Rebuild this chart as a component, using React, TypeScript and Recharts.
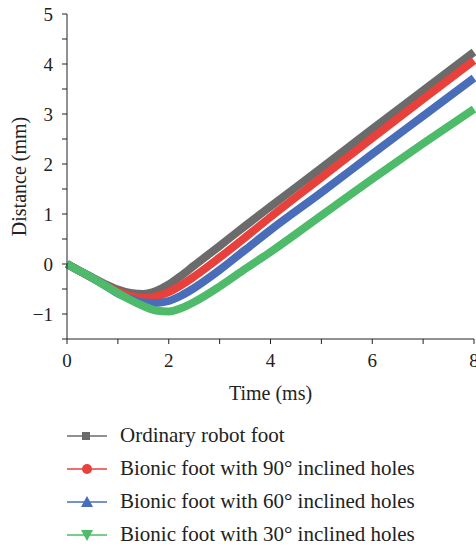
import { LineChart, Line, XAxis, YAxis, Label } from "recharts";

const times = [0, 0.25, 0.5, 0.75, 1, 1.25, 1.5, 1.75, 2, 2.25, 2.5, 3, 3.5, 4, 5, 6, 7, 8];
const ordinary = [0, -0.14, -0.27, -0.4, -0.51, -0.58, -0.6, -0.54, -0.41, -0.23, -0.03, 0.36, 0.76, 1.15, 1.92, 2.7, 3.47, 4.24];
const holes90 = [0, -0.14, -0.28, -0.42, -0.55, -0.64, -0.68, -0.65, -0.56, -0.42, -0.25, 0.13, 0.53, 0.94, 1.73, 2.52, 3.3, 4.07];
const holes60 = [0, -0.14, -0.28, -0.43, -0.59, -0.7, -0.77, -0.78, -0.74, -0.63, -0.48, -0.12, 0.28, 0.68, 1.43, 2.2, 2.96, 3.72];
const holes30 = [0, -0.14, -0.28, -0.43, -0.58, -0.72, -0.84, -0.93, -0.95, -0.88, -0.76, -0.45, -0.1, 0.24, 0.97, 1.7, 2.41, 3.1];

const xTicks = [0, 1, 2, 3, 4, 5, 6, 7, 8];
const yTicks = [-1.5, -1, -0.5, 0, 0.5, 1, 1.5, 2, 2.5, 3, 3.5, 4, 4.5, 5];

const series = [
  { key: "ordinary", name: "Ordinary robot foot", color: "#6b6b6b", marker: "square" },
  { key: "holes90", name: "Bionic foot with 90° inclined holes", color: "#e8403b", marker: "circle" },
  { key: "holes60", name: "Bionic foot with 60° inclined holes", color: "#4a6dba", marker: "up" },
  { key: "holes30", name: "Bionic foot with 30° inclined holes", color: "#4dbb69", marker: "down" },
];

const data = times.map((t, i) => ({
  t,
  ordinary: ordinary[i],
  holes90: holes90[i],
  holes60: holes60[i],
  holes30: holes30[i],
}));

const font = "'Liberation Serif', 'DejaVu Serif', serif";

const Marker = ({ type, color }: { type: string; color: string }) => {
  let shape;
  if (type === "square") shape = <rect x={15} y={5} width={8} height={8} fill={color} />;
  else if (type === "circle") shape = <circle cx={20} cy={9} r={5} fill={color} />;
  else if (type === "up") shape = <polygon points="20,3 26,14 14,14" fill={color} />;
  else shape = <polygon points="14,4 26,4 20,15" fill={color} />;
  return (
    <svg width={40} height={18} style={{ display: "block" }}>
      <line x1={0} y1={9} x2={40} y2={9} stroke={color} strokeWidth={1.3} />
      {shape}
    </svg>
  );
};

const fmtY = (v: number) => (Number.isInteger(v) ? (v < 0 ? `\u2212${-v}` : `${v}`) : "");
const fmtX = (v: number) => (v % 2 === 0 ? `${v}` : "");

export default function App() {
  return (
    <div style={{ position: "absolute", left: 0, top: 0, width: 476, height: 550, background: "#fff", fontFamily: font }}>
      <LineChart width={476} height={420} data={data} margin={{ top: 14, right: 2, left: 0, bottom: 0 }}>
        <XAxis
          dataKey="t"
          type="number"
          domain={[0, 8]}
          ticks={xTicks}
          tickFormatter={fmtX}
          tickSize={5}
          tickMargin={10}
          height={81}
          stroke="#222"
          tick={{ fill: "#222", fontSize: 19, fontFamily: font }}
          interval={0}
        >
          <Label value="Time (ms)" position="insideTop" offset={47} fill="#222" fontSize={20} fontFamily={font} />
        </XAxis>
        <YAxis
          type="number"
          domain={[-1.5, 5]}
          ticks={yTicks}
          tickFormatter={fmtY}
          tickSize={5}
          tickMargin={9}
          width={67}
          stroke="#222"
          tick={{ fill: "#222", fontSize: 19, fontFamily: font }}
          interval={0}
        >
          <Label value="Distance (mm)" angle={-90} position="insideLeft" offset={19} fill="#222" fontSize={20} fontFamily={font} style={{ textAnchor: "middle" }} />
        </YAxis>
        {series.map((s) => (
          <Line
            key={s.key}
            dataKey={s.key}
            name={s.name}
            type="monotone"
            stroke={s.color}
            strokeWidth={8}
            dot={false}
            isAnimationActive={false}
          />
        ))}
      </LineChart>
      <div style={{ position: "absolute", left: 67, top: 419 }}>
        {series.map((s) => (
          <div key={s.key} style={{ display: "flex", alignItems: "center", height: 33 }}>
            <Marker type={s.marker} color={s.color} />
            <span style={{ marginLeft: 13, fontSize: 21, color: "#222" }}>{s.name}</span>
          </div>
        ))}
      </div>
    </div>
  );
}
